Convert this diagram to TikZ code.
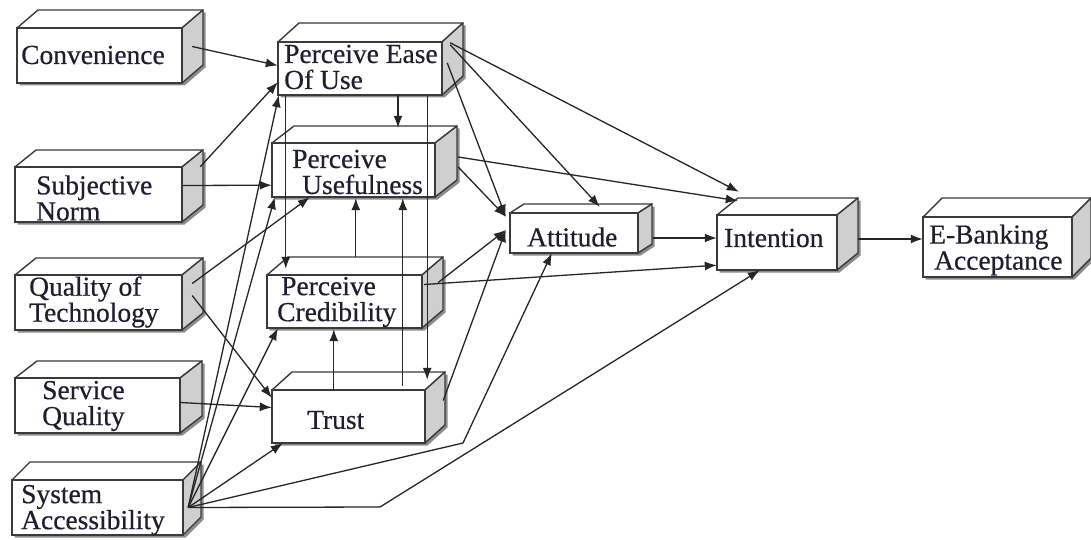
\documentclass[tikz,border=0pt]{standalone}
\usepackage{fontspec}
\setmainfont{Liberation Serif}[FakeBold=0.5]
\usetikzlibrary{arrows.meta,calc,fit}
\definecolor{boxline}{HTML}{3A3A3A}
\definecolor{sidegray}{HTML}{CFCFCF}
\definecolor{txtc}{HTML}{1E1E30}
\tikzset{
  facefront/.style={fill=white, draw=boxline, line width=1.4pt},
  facetop/.style={fill=white, draw=boxline, line width=1.4pt, line join=round},
  faceside/.style={fill=sidegray, draw=boxline, line width=1.4pt, line join=round},
  boxshadow/.style={fill=black!45},
  lbl/.style={anchor=west, align=left, inner sep=0pt, text=txtc, font=\fontsize{27.5}{26}\selectfont},
  arr/.style={draw=black!85, line width=1.3pt, -{Latex[length=12pt,width=9pt]}},
}
\newcommand{\cuboid}[7]{%
  \fill[boxshadow] ({#2+2.5},{#5+2.5}) -- ({#4+2.5},{#5+2.5}) -- ({#4+(#6)+2.5},{#5+(#7)+2.5})
     -- ({#4+(#6)+2.5},{#3+(#7)+2.5}) -- ({#2+(#6)+2.5},{#3+(#7)+2.5}) -- ({#2+2.5},{#3+2.5}) -- cycle;
  \path[facetop] (#2,#3) -- ({#2+(#6)},{#3+(#7)}) -- ({#4+(#6)},{#3+(#7)}) -- (#4,#3) -- cycle;
  \path[faceside] (#4,#3) -- ({#4+(#6)},{#3+(#7)}) -- ({#4+(#6)},{#5+(#7)}) -- (#4,#5) -- cycle;
  \path[facefront] (#2,#3) rectangle (#4,#5);
  \node[fit={(#2,#3) (#4,#5)}, inner sep=0pt] (#1) {};
}
\begin{document}
\begin{tikzpicture}[x=1pt,y=-1pt]
\useasboundingbox (0,0) rectangle (1091,540);
\fill[white] (0,0) rectangle (1091,540);

\cuboid{conv}{17}{28}{182}{83}{21}{-18}
\cuboid{peou}{278}{42}{442}{95}{21}{-19}
\cuboid{pu}{272}{143}{435}{197}{22}{-17}
\cuboid{sn}{15}{167}{182}{222}{21}{-17}
\cuboid{qot}{15}{275}{182}{330}{21}{-17}
\cuboid{pc}{267}{275}{422}{328}{21}{-18}
\cuboid{sq}{15}{378}{180}{433}{22}{-17}
\cuboid{sa}{12}{480}{183}{535}{18}{-18}
\cuboid{trust}{272}{390}{425}{443}{20}{-18}
\cuboid{att}{510}{213}{638}{253}{14}{-9}
\cuboid{int}{717}{215}{837}{270}{21}{-17}
\cuboid{eb}{923}{217}{1072}{277}{19}{-19}

\node[lbl] (conv-t) at (21,55) {Convenience};
\node[lbl] (peou-t) at (284,67) {Perceive Ease\\Of Use};
\node[lbl] (pu-t) at (292,172) {Perceive\\\hspace*{10pt}Usefulness};
\node[lbl] (sn-t) at (36,198) {Subjective\\Norm};
\node[lbl] (qot-t) at (29,302) {Quality of\\Technology};
\node[lbl] (pc-t) at (277,302) {\hspace*{4pt}Perceive\\Credibility};
\node[lbl] (sq-t) at (42,406) {Service\\Quality};
\node[lbl] (sa-t) at (21,510) {System\\Accessibility};
\node[lbl] (trust-t) at (307,420) {Trust};
\node[lbl] (att-t) at (527,237) {Attitude};
\node[lbl] (int-t) at (724,238) {Intention};
\node[lbl] (eb-t) at (929,250) {E-Banking\\\hspace*{5pt}Acceptance};

% left inputs
\coordinate (conv-s) at ($(conv.east)+(10,-9)$);
\draw[arr] (conv-s) -- ($(peou.west)+(0,-3)$);
\draw[arr] ($(sn.north east)+(18,0)$) -- ($(peou.south west)+(0,-13)$);
\draw[arr] ($(sn.east)+(1,-9)$) -- ($(pu.south west)+(0,-12)$);
\draw[arr] ($(qot.east)+(10,-19)$) -- ($(pu.south west)+(38,0)$);
\draw[arr] ($(qot.east)+(10,-7)$) -- ($(trust.north west)+(0,8)$);
\draw[arr] ($(sq.east)+(0,-3)$) -- ($(trust.west)+(0,-9)$);

% system accessibility fan
\coordinate (sa-o) at ($(sa.east)+(5,0)$);
\draw[arr] (sa-o) -- ($(peou.south west)+(1,0)$);
\draw[arr] (sa-o) -- ($(pu.south west)+(3,0)$);
\draw[arr] (sa-o) -- ($(pc.south west)+(11,0)$);
\draw[arr] (sa-o) -- ($(trust.south west)+(11,0)$);
\coordinate (k1) at (463,443);
\draw[arr] (sa-o) -- (k1) -- ($(att.south west)+(42,0)$);
\coordinate (k2) at (380,507);
\draw[arr] (sa-o) -- (k2) -- ($(int.south west)+(43,0)$);

% middle column verticals
\draw[arr] ($(peou.south)+(38,0)$) -- ($(pu.north)+(44.5,-15)$);
\draw[arr] ($(peou.south west)+(8,0)$) -- ($(pc.north west)+(19,-6)$);
\draw[arr] ($(peou.south east)+(-15,0)$) -- ($(trust.north east)+(2,-10)$);
\draw[arr] ($(trust.north west)+(62,0)$) -- ($(pc.south west)+(67,1)$);
\draw[arr] ($(trust.north west)+(131,-4)$) -- ($(pu.south west)+(131,1)$);
\draw[arr] ($(pc.north west)+(89,-18)$) -- ($(pu.south west)+(84,1)$);

% to attitude and intention
\draw[arr] ($(peou.north east)+(8,1)$) -- ($(int.north west)+(22,-23)$);
\draw[arr] ($(peou.north east)+(8,3)$) -- ($(att.north west)+(90,-6)$);
\draw[arr] ($(peou.north east)+(5,21)$) -- ($(att.north west)+(-4,4)$);
\draw[arr] ($(pu.east)+(23,-13)$) -- ($(int.north west)+(21,-14)$);
\draw[arr] ($(pu.east)+(23,-3)$) -- ($(att.north west)+(-4,4)$);
\draw[arr] ($(pc.east)+(16,-19)$) -- ($(att.west)+(-4,-3)$);
\draw[arr] ($(pc.east)+(2,-17)$) -- ($(int.south west)+(0,-5)$);
\draw[arr] ($(trust.east)+(18,-16)$) -- ($(att.west)+(-4,-3)$);
\draw[arr] ($(att.east)+(15,5)$) -- ($(int.west)+(0,-4.5)$);
\draw[arr] ($(int.east)+(21,-3.5)$) -- ($(eb.west)+(0,-8)$);
\end{tikzpicture}
\end{document}
